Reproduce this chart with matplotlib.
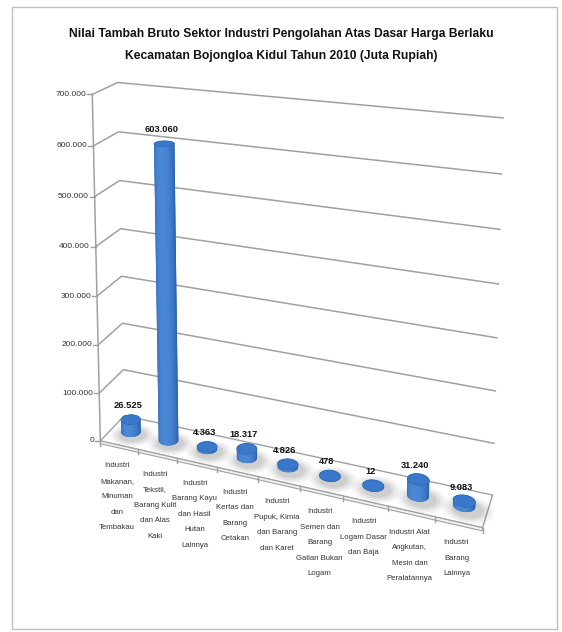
import numpy as np
import matplotlib.pyplot as plt
from matplotlib.patches import Polygon, Rectangle
from matplotlib.colors import LinearSegmentedColormap

plt.rcParams['font.family'] = ['Liberation Sans Narrow', 'Liberation Sans', 'DejaVu Sans']

title = ("Nilai Tambah Bruto Sektor Industri Pengolahan Atas Dasar Harga Berlaku\n"
         "Kecamatan Bojongloa Kidul Tahun 2010 (Juta Rupiah)")
categories = [
    "Industri\nMakanan,\nMinuman\ndan\nTembakau",
    "Industri\nTekstil,\nBarang Kulit\ndan Alas\nKaki",
    "Industri\nBarang Kayu\ndan Hasil\nHutan\nLainnya",
    "Industri\nKertas dan\nBarang\nCetakan",
    "Industri\nPupuk, Kimia\ndan Barang\ndan Karet",
    "Industri\nSemen dan\nBarang\nGalian Bukan\nLogam",
    "Industri\nLogam Dasar\ndan Baja",
    "Industri Alat\nAngkutan,\nMesin dan\nPeralatannya",
    "Industri\nBarang\nLainnya",
]
values = [26525, 603060, 4363, 18317, 4826, 478, 12, 31240, 9083]
yticks = [0, 100000, 200000, 300000, 400000, 500000, 600000, 700000]


def fmt(v):
    return f"{v:,}".replace(",", ".")


# --- 3D perspective (excel style) -----------------------------------------
# chart space: x = category axis (0..9), v = value / 1e5, d = depth (0 front, 1 back)
# camera matrix fitted to the corners of walls/floor in pixel space
ref3d = np.array([[0, 7, 0], [0, 0, 0], [0, 7, 1], [0, 0, 1], [9, 7, 1],
                  [9, 0, 1], [9, 0, 0], [0, 1, 1], [9, 1, 1]], float)
ref2d = np.array([[91, 94], [102, 441], [119, 83], [124, 416], [503, 118],
                  [493, 495], [482, 528], [122, 369], [494, 443]], float)
A = []
for (X, Y, Z), (u, w) in zip(ref3d, ref2d):
    A.append([X, Y, Z, 1, 0, 0, 0, 0, -u * X, -u * Y, -u * Z, -u])
    A.append([0, 0, 0, 0, X, Y, Z, 1, -w * X, -w * Y, -w * Z, -w])
P = np.linalg.svd(np.array(A))[2][-1].reshape(3, 4)


def proj(x, val, d):
    x, val, d = np.broadcast_arrays(np.asarray(x, float), np.asarray(val, float) / 1e5,
                                    np.asarray(d, float))
    h = P @ np.vstack([x.ravel(), val.ravel(), d.ravel(), np.ones(x.size)])
    return h[0] / h[2], h[1] / h[2]


def hull(pts):
    pts = sorted(set(map(tuple, np.round(pts, 3))))
    def cross(o, a, b):
        return (a[0] - o[0]) * (b[1] - o[1]) - (a[1] - o[1]) * (b[0] - o[0])
    lo, up = [], []
    for p in pts:
        while len(lo) >= 2 and cross(lo[-2], lo[-1], p) <= 0:
            lo.pop()
        lo.append(p)
    for p in reversed(pts):
        while len(up) >= 2 and cross(up[-2], up[-1], p) <= 0:
            up.pop()
        up.append(p)
    return np.array(lo[:-1] + up[:-1])


fig = plt.figure(figsize=(5.62, 6.32), dpi=100)
ax = fig.add_axes([0, 0, 1, 1])
ax.axis('off')

ax.add_patch(Rectangle((12, 7), 545, 622, fill=False, ec='#BFBFBF', lw=1))

ax.text(281, 45, title, ha='center', va='center', fontsize=8.7, fontweight='bold',
        linespacing=2.15, color='#111111')

grid_c = '#A0A0A0'
text_c = '#333333'
n = len(values)

# floor slab
fu, fv = proj([0, n, n, 0], 0, [0, 0, 1, 1])
ax.add_patch(Polygon(np.c_[fu, fv], closed=True, fc='white', ec=grid_c, lw=1, zorder=1))
su, sv = proj([0, n, n, 0], [0, 0, -6000, -6000], [0, 0, 0, 0])
ax.add_patch(Polygon(np.c_[su, sv], closed=True, fc='#F2F2F2', ec=grid_c, lw=0.8, zorder=1))

# gridlines on back wall + side wall
for t in yticks[1:]:
    gu, gv = proj([0, 0, n], t, [0, 1, 1])
    ax.plot(gu, gv, color=grid_c, lw=1.1, zorder=1)
au, av = proj([0, 0], [0, yticks[-1]], [0, 0])
ax.plot(au, av, color=grid_c, lw=1.1, zorder=1)
for t in yticks:
    tu, tv = proj(0, t, 0)
    ax.plot([tu[0] - 5, tu[0]], [tv[0], tv[0]], color=grid_c, lw=1, zorder=1)
    ax.text(tu[0] - 6, tv[0], fmt(t), ha='right', va='center', fontsize=6.0, color=text_c)

# category ticks and labels
for i in range(n + 1):
    ku, kv = proj(i, 0, 0)
    ax.plot([ku[0], ku[0]], [kv[0], kv[0] + 5], color=grid_c, lw=1, zorder=1)
for i, lab in enumerate(categories):
    lu, lv = proj(i + 0.5, 0, 0)
    ax.text(lu[0] - 2, lv[0] + 17, lab, ha='center', va='top', fontsize=5.6,
            linespacing=2.7, color=text_c)

# cylinders
cmap = LinearSegmentedColormap.from_list('cyl', ['#143874', '#285FAC', '#4A88D6'])
theta = np.linspace(0, 2 * np.pi, 121)
rx, rd = 0.235, 0.18
for i, v in enumerate(values):
    cx, cd = i + 0.5, 0.5
    # soft shadow
    for s, a in [(2.3, 0.06), (2.0, 0.08), (1.7, 0.10), (1.4, 0.13)]:
        hu, hv = proj(cx + 0.1 + s * rx * np.cos(theta), 0, cd - 0.08 - s * rd * np.sin(theta))
        ax.add_patch(Polygon(np.c_[hu, hv], closed=True, fc='#707070', ec='none',
                             alpha=a, zorder=2))
    xs = cx + rx * np.cos(theta)
    ds = cd - rd * np.sin(theta)
    bu, bv = proj(xs, 0, ds)
    tu, tv = proj(xs, v, ds)
    body = hull(np.r_[np.c_[bu, bv], np.c_[tu, tv]])
    patch = Polygon(body, closed=True, fc='#285FAC', ec='none', zorder=3)
    ax.add_patch(patch)
    # horizontal shading clipped to the body
    x0, x1 = body[:, 0].min(), body[:, 0].max()
    y0, y1 = body[:, 1].min(), body[:, 1].max()
    _, yb = proj(cx, 0, cd)
    _, yt = proj(cx, v, cd)
    gx = np.linspace(x0, x1, 80)
    gy = np.linspace(y0, y1, max(int(y1 - y0), 2))
    fr = np.clip((gy - yt[0]) / max(yb[0] - yt[0], 1e-6), 0, 1)[:, None]
    left = tu.min() + (bu.min() - tu.min()) * fr
    right = tu.max() + (bu.max() - tu.max()) * fr
    tt = np.clip((gx[None, :] - left) / (right - left), 0, 1)
    phi = np.arccos(1 - 2 * tt)
    shade = 0.5 + 0.5 * np.cos(phi - 0.4 * np.pi)
    im = ax.imshow(cmap(shade), extent=(x0, x1, y1, y0), origin='upper', aspect='auto',
                   interpolation='bilinear', zorder=3)
    im.set_clip_path(patch)
    ax.add_patch(Polygon(np.c_[tu, tv], closed=True, fc='#3A78C9', ec='#2D69B8', lw=0.5, zorder=4))
    cu, cv = proj(cx, v, cd)
    ax.text(cu[0] - 3, cv[0] - 14, fmt(v), ha='center', va='center', fontsize=6.7,
            fontweight='bold', color='#111111', zorder=5)

ax.set_xlim(0, 562)
ax.set_ylim(632, 0)
fig.savefig('out.png', dpi=100)
